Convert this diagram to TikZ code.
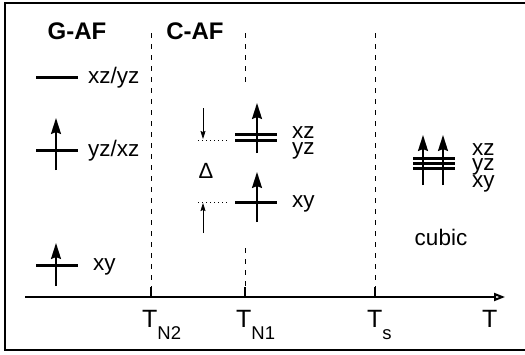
\documentclass[tikz,border=0pt]{standalone}
\usepackage{fontspec}
\setmainfont{Liberation Sans}
\usetikzlibrary{arrows.meta}
\begin{document}
\begin{tikzpicture}[x=1pt,y=-1pt,
  lbl/.style={anchor=base west,inner sep=0pt,font=\fontsize{22.5}{22}\selectfont},
  stacked/.style={lbl,text height=12pt,text depth=0pt},
  tlbl/.style={anchor=base west,inner sep=0pt,font=\fontsize{25}{25}\selectfont},
  phase/.style={inner sep=0pt,font=\fontsize{24}{24}\selectfont\bfseries},
  level/.style={line width=3pt},
  spin/.style={line width=2pt,-{Stealth[length=16pt,width=10pt,inset=2pt]}},
  thinarrow/.style={line width=0.8pt,-{Stealth[length=8pt,width=5pt,inset=1pt]}},
  boundary/.style={line width=1pt,dash pattern=on 5pt off 6pt},
  guide/.style={line width=0.8pt,dash pattern=on 1pt off 3pt},
  tick/.style={line width=2pt}]
\useasboundingbox (0,0) rectangle (525,354);
\draw[line width=2pt] (4.5,2.5) rectangle (545,349.5);

% axis
\coordinate (a0) at (25,297);
\coordinate (a1) at (505,297);
\draw[line width=2pt,-{Triangle[open,length=11pt,width=8pt]}] (a0) -- (a1);

% boundaries
\coordinate (n2top) at (151,33); \coordinate (n2t) at (151,287); \coordinate (n2a) at (151,297);
\coordinate (n1top) at (245,33); \coordinate (n1mid) at (245,82);
\coordinate (n1low) at (245,248); \coordinate (n1t) at (245,287); \coordinate (n1a) at (245,297);
\coordinate (stop) at (375,33); \coordinate (st) at (375,287); \coordinate (sa) at (375,297);
\draw[boundary] (n2top) -- (n2t);
\draw[boundary] (n1top) -- (n1mid);
\draw[boundary] (n1low) -- (n1t);
\draw[boundary] (stop) -- (st);
\draw[tick] (n2t) -- (n2a);
\draw[tick] (n1t) -- (n1a);
\draw[tick] (st) -- (sa);

% axis labels
\node[tlbl] (tn2) at (142,327) {T\raisebox{-12pt}{\fontsize{18.5}{18}\selectfont N2}};
\node[tlbl] (tn1) at (236,327) {T\raisebox{-12pt}{\fontsize{18.5}{18}\selectfont N1}};
\node[tlbl] (ts) at (367,327) {T\raisebox{-12pt}{\fontsize{18.5}{18}\selectfont s}};
\node[tlbl] (tt) at (482,327) {T};

% phase names
\node[phase] (gaf) at (77,31) {G-AF};
\node[phase] (caf) at (195,31) {C-AF};

% G-AF levels
\draw[level] (36,77) -- (78,77);
\node[lbl] (g1) at (88,83) {xz/yz};
\draw[level] (36,150) -- (78,150);
\draw[spin] (56,170) -- (56,118);
\node[lbl] (g2) at (88,156) {yz/xz};
\draw[level] (36,265) -- (78,265);
\draw[spin] (56,286) -- (56,243);
\node[lbl] (g3) at (93,270) {xy};

% C-AF levels
\draw[level] (235,134) -- (277,134);
\draw[level] (235,140) -- (277,140);
\draw[spin] (257,153) -- (257,103);
\node[stacked] (c1) at (292,138) {xz};
\node[stacked] (c2) at (292,154) {yz};
\draw[level] (235,202) -- (277,202);
\draw[spin] (257,222) -- (257,172);
\node[lbl] (c3) at (292,207) {xy};

% Delta
\coordinate (d1a) at (198,140); \coordinate (d1b) at (230,140);
\coordinate (d2a) at (198,202); \coordinate (d2b) at (230,202);
\draw[guide] (d1a) -- (d1b);
\draw[guide] (d2a) -- (d2b);
\coordinate (up1) at (203,108); \coordinate (up2) at (203,139);
\coordinate (lo1) at (203,233); \coordinate (lo2) at (203,203);
\draw[thinarrow] (up1) -- (up2);
\draw[thinarrow] (lo1) -- (lo2);
\node[inner sep=0pt,font=\fontsize{22}{22}\selectfont] (delta) at (206,171) {Δ};

% cubic
\draw[level] (413,158) -- (455,158);
\draw[level] (413,163) -- (455,163);
\draw[level] (413,168) -- (455,168);
\draw[spin] (423,185) -- (423,135);
\draw[spin] (443,185) -- (443,135);
\node[stacked] (k1) at (472,155) {xz};
\node[stacked] (k2) at (472,170) {yz};
\node[stacked] (k3) at (472,187) {xy};
\node[inner sep=0pt,font=\fontsize{22.5}{22}\selectfont] (cubic) at (441,237) {cubic};
\end{tikzpicture}
\end{document}
